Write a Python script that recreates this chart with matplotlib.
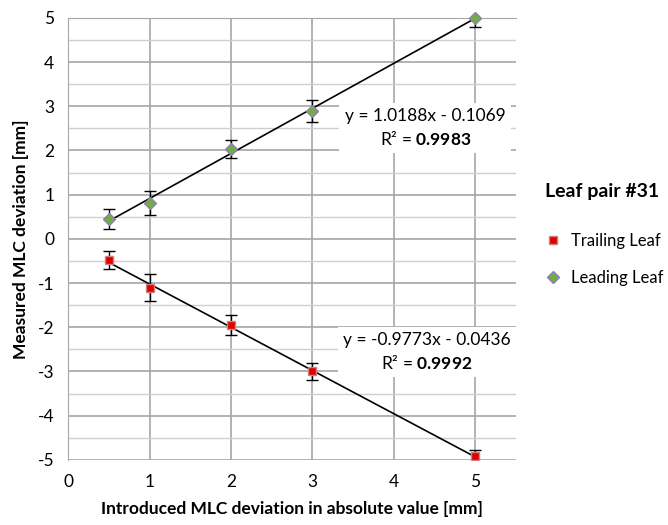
import matplotlib.pyplot as plt
import numpy as np

plt.rcParams['font.family'] = ['Lato', 'DejaVu Sans']
plt.rcParams['axes.unicode_minus'] = False
plt.rcParams['mathtext.fontset'] = 'custom'
plt.rcParams['mathtext.rm'] = 'Lato'
plt.rcParams['mathtext.bf'] = 'Lato:bold'

x_vals = [0.5, 1, 2, 3, 5]
trailing = [-0.48, -1.10, -1.95, -3.00, -4.92]
trailing_err = [0.20, 0.30, 0.22, 0.20, 0.15]
leading = [0.45, 0.82, 2.03, 2.90, 5.00]
leading_err = [0.22, 0.27, 0.20, 0.25, 0.20]

lead_fit = (1.0188, -0.1069, 0.9983)
trail_fit = (-0.9773, -0.0436, 0.9992)


def fit_label(ax, x, y, fit):
    label = 'y = %.4fx - %.4f\nR² = $\\mathbf{%.4f}$' % (fit[0], -fit[1], fit[2])
    ax.text(x, y, label, fontsize=12.5, ha='center', va='center',
            multialignment='center', linespacing=1.35,
            bbox=dict(facecolor='white', edgecolor='none', pad=4), zorder=5)


def main():
    fig = plt.figure(figsize=(6.68, 5.25), dpi=100)
    ax = fig.add_axes([0.102, 0.124, 0.67, 0.842])

    ax.set_xlim(0, 5.5)
    ax.set_ylim(-5, 5)
    ax.set_xticks(range(0, 6))
    ax.set_yticks(range(-5, 6))
    ax.set_yticks(np.arange(-5, 5.01, 0.5), minor=True)
    ax.tick_params(which='both', length=0, labelsize=12.5, pad=10)
    ax.grid(True, which='major', color='#a6a6a6', linewidth=1.2)
    ax.grid(True, which='minor', axis='y', color='#cfcfcf', linewidth=1.0)
    ax.set_axisbelow(True)
    for side in ['right', 'bottom']:
        ax.spines[side].set_visible(False)
    ax.spines['left'].set_color('#a6a6a6')
    ax.spines['top'].set_color('#a6a6a6')

    xs = np.linspace(0.5, 5, 50)
    ax.plot(xs, lead_fit[0] * xs + lead_fit[1], color='black', linewidth=1.2, zorder=2)
    ax.plot(xs, trail_fit[0] * xs + trail_fit[1], color='black', linewidth=1.2, zorder=2)

    ax.errorbar(x_vals, trailing, yerr=trailing_err, fmt='none', ecolor='black',
                elinewidth=1, capsize=4, zorder=3)
    ax.errorbar(x_vals, leading, yerr=leading_err, fmt='none', ecolor='black',
                elinewidth=1, capsize=4, zorder=3)
    ax.plot(x_vals, trailing, 's', color='#e00000', markeredgecolor='#d08080',
            markersize=6, label='Trailing Leaf', zorder=4)
    ax.plot(x_vals, leading, 'D', color='#70ad47', markeredgecolor='#9080b0',
            markersize=6, label='Leading Leaf', zorder=4, clip_on=False)

    fit_label(ax, 4.39, 2.51, lead_fit)
    fit_label(ax, 4.41, -2.56, trail_fit)

    ax.set_xlabel('Introduced MLC deviation in absolute value [mm]', fontsize=12.5,
                  fontweight='bold', labelpad=8)
    ax.set_ylabel('Measured MLC deviation [mm]', fontsize=12.5, fontweight='bold', labelpad=6)

    leg = fig.legend(loc='upper left', bbox_to_anchor=(0.793, 0.68), frameon=False,
                     title='Leaf pair #31', fontsize=12, labelspacing=1.25,
                     handletextpad=0.6, handlelength=1.0)
    leg.get_title().set_fontweight('bold')
    leg.get_title().set_fontsize(14)
    leg._legend_box.align = 'left'
    leg._legend_box.sep = 24

    fig.savefig('out.png', dpi=100)


main()
